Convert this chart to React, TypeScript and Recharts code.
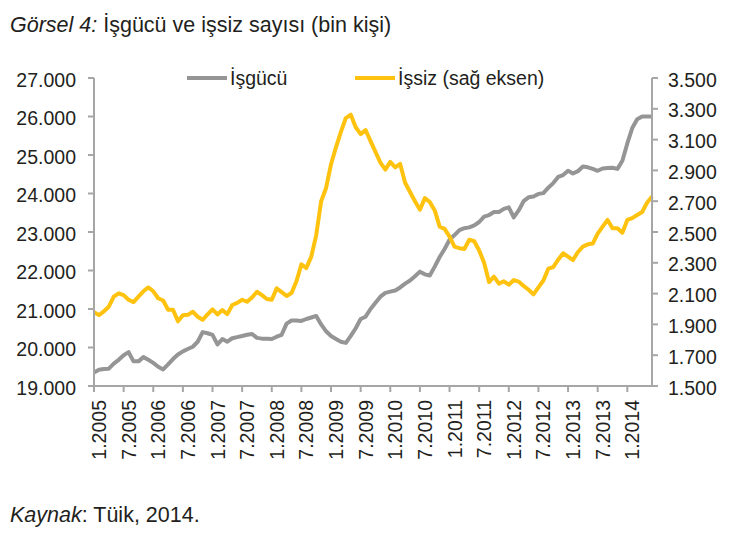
import React from 'react';
import { LineChart, Line, XAxis, YAxis } from 'recharts';

// Month labels shown on the horizontal axis (every six months)
const tickLabels = [
  '1.2005', '7.2005', '1.2006', '7.2006', '1.2007', '7.2007', '1.2008', '7.2008',
  '1.2009', '7.2009', '1.2010', '7.2010', '1.2011', '7.2011', '1.2012', '7.2012',
  '1.2013', '7.2013', '1.2014',
];

// Labour force (thousand persons), monthly from 1.2005 — left axis
const laborForce = [
  19350, 19420, 19440, 19450, 19580, 19680, 19800, 19880, 19640, 19640, 19750, 19680,
  19600, 19500, 19430, 19560, 19700, 19820, 19900, 19960, 20020, 20150, 20400, 20370,
  20330, 20080, 20220, 20150, 20240, 20270, 20300, 20330, 20350, 20250, 20230, 20230,
  20220, 20280, 20330, 20620, 20700, 20700, 20690, 20740, 20780, 20820, 20600, 20420,
  20300, 20220, 20150, 20120, 20300, 20500, 20740, 20800, 21000, 21160, 21320, 21420,
  21450, 21480, 21560, 21660, 21740, 21850, 21970, 21900, 21870, 22100, 22350, 22560,
  22800, 22920, 23050, 23100, 23120, 23170, 23260, 23400, 23440, 23520, 23520, 23600,
  23640, 23380, 23560, 23800, 23900, 23920, 23990, 24010, 24150, 24270, 24430, 24480,
  24590, 24520, 24580, 24700, 24680, 24640, 24590, 24650, 24660, 24670, 24640, 24850,
  25300, 25700, 25930, 26000, 26000, 26000,
];

// Unemployed (thousand persons), monthly from 1.2005 — right axis
const unemployed = [
  1980, 1960, 1985, 2015, 2080, 2102, 2090, 2060, 2045, 2080, 2115, 2140,
  2115, 2070, 2055, 1995, 1995, 1920, 1960, 1962, 1982, 1950, 1930, 1965,
  1998, 1965, 1993, 1967, 2026, 2040, 2060, 2047, 2075, 2112, 2090, 2065,
  2060, 2134, 2110, 2085, 2104, 2180, 2290, 2266, 2340, 2480, 2700, 2786,
  2940, 3050, 3150, 3240, 3262, 3180, 3135, 3162, 3090, 3020, 2950, 2905,
  2955, 2920, 2942, 2820, 2760, 2700, 2645, 2720, 2695, 2640, 2535, 2520,
  2470, 2405, 2395, 2390, 2450, 2440, 2380, 2300, 2175, 2210, 2165, 2180,
  2158, 2188, 2178, 2150, 2125, 2095, 2140, 2185, 2262, 2272, 2320, 2362,
  2340, 2318, 2370, 2405, 2420, 2425, 2490, 2535, 2578, 2524, 2524, 2495,
  2578, 2590, 2610, 2630, 2690, 2730,
];

const leftTicks = [19000, 20000, 21000, 22000, 23000, 24000, 25000, 26000, 27000];
const rightTicks = [1500, 1700, 1900, 2100, 2300, 2500, 2700, 2900, 3100, 3300, 3500];

const FONT = '"Liberation Sans", Arial, Helvetica, sans-serif';
const TEXT = '#231f20';
const AXIS = '#a6a6a6';
const GRAY = '#959595';
const YELLOW = '#ffc20e';
const TICK_FONT = 19.5;

const months = laborForce.map((_, i) => `${(i % 12) + 1}.${2005 + Math.floor(i / 12)}`);
const data = months.map((m, i) => ({
  t: i,
  month: m,
  laborForce: laborForce[i],
  unemployed: unemployed[i],
}));
const xTicks = tickLabels.map((l) => months.indexOf(l));

// Thousands separated by a dot, e.g. 27.000
const fmt = (v: number) => {
  const th = Math.floor(v / 1000);
  const rest = Math.round(v % 1000);
  return `${th}.${String(rest).padStart(3, '0')}`;
};

const LeftTick = (props: any) => {
  const { x, y, payload } = props;
  return (
    <text x={x} y={y} dy={8.5} textAnchor="end" fontSize={TICK_FONT} fontFamily={FONT} fill={TEXT}>
      {fmt(payload.value)}
    </text>
  );
};

const RightTick = (props: any) => {
  const { x, y, payload } = props;
  return (
    <text x={x} y={y} dy={8.5} textAnchor="start" fontSize={TICK_FONT} fontFamily={FONT} fill={TEXT}>
      {fmt(payload.value)}
    </text>
  );
};

const MonthTick = (props: any) => {
  const { x, y, payload } = props;
  return (
    <text
      transform={`translate(${x + 12}, ${y}) rotate(-90)`}
      textAnchor="end"
      fontSize={TICK_FONT}
      fontFamily={FONT}
      fill={TEXT}
    >
      {months[payload.value]}
    </text>
  );
};

export default function App() {
  return (
    <div style={{ position: 'absolute', left: 0, top: 0, width: 740, height: 539, background: '#ffffff' }}>
      <LineChart
        width={740}
        height={539}
        data={data}
        margin={{ top: 78, right: 8, bottom: 73, left: 14 }}
      >
        <XAxis
          dataKey="t"
          type="number"
          domain={[0, 113]}
          ticks={xTicks}
          interval={0}
          height={80}
          tickSize={6}
          tickMargin={8}
          axisLine={{ stroke: AXIS, strokeWidth: 2 }}
          tickLine={{ stroke: AXIS, strokeWidth: 2 }}
          tick={<MonthTick />}
        />
        <YAxis
          yAxisId="left"
          domain={[19000, 27000]}
          ticks={leftTicks}
          interval={0}
          width={80}
          tickSize={6}
          tickMargin={12}
          axisLine={{ stroke: AXIS, strokeWidth: 2 }}
          tickLine={{ stroke: AXIS, strokeWidth: 2 }}
          tick={<LeftTick />}
          allowDataOverflow
        />
        <YAxis
          yAxisId="right"
          orientation="right"
          domain={[1500, 3500]}
          ticks={rightTicks}
          interval={0}
          width={80}
          tickSize={6}
          tickMargin={10}
          axisLine={{ stroke: AXIS, strokeWidth: 2 }}
          tickLine={{ stroke: AXIS, strokeWidth: 2 }}
          tick={<RightTick />}
          allowDataOverflow
        />
        <Line
          yAxisId="left"
          type="linear"
          dataKey="laborForce"
          name="İşgücü"
          stroke={GRAY}
          strokeWidth={4}
          strokeLinejoin="round"
          dot={false}
          isAnimationActive={false}
        />
        <Line
          yAxisId="right"
          type="linear"
          dataKey="unemployed"
          name="İşsiz (sağ eksen)"
          stroke={YELLOW}
          strokeWidth={4}
          strokeLinejoin="round"
          dot={false}
          isAnimationActive={false}
        />
      </LineChart>

      <svg
        width={740}
        height={539}
        style={{ position: 'absolute', left: 0, top: 0, pointerEvents: 'none' }}
      >
        <text x={10} y={32} fontSize={21.5} fontFamily={FONT} fill={TEXT}>
          <tspan fontStyle="italic">Görsel 4:</tspan>
          <tspan> İşgücü ve işsiz sayısı (bin kişi)</tspan>
        </text>

        {/* legend */}
        <line x1={187} y1={78} x2={227} y2={78} stroke={GRAY} strokeWidth={4} />
        <text x={230} y={85} fontSize={TICK_FONT} fontFamily={FONT} fill={TEXT}>İşgücü</text>
        <line x1={355} y1={78} x2={395} y2={78} stroke={YELLOW} strokeWidth={4} />
        <text x={398} y={85} fontSize={TICK_FONT} fontFamily={FONT} fill={TEXT}>İşsiz (sağ eksen)</text>

        <text x={10} y={522} fontSize={21.5} fontFamily={FONT} fill={TEXT}>
          <tspan fontStyle="italic">Kaynak</tspan>
          <tspan>: Tüik, 2014.</tspan>
        </text>
      </svg>
    </div>
  );
}
